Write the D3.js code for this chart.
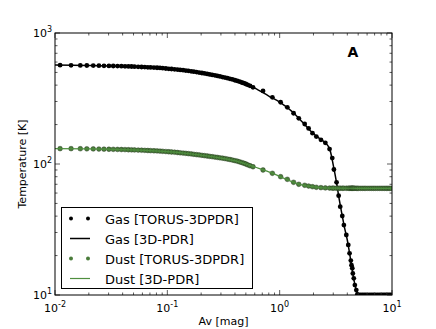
<!DOCTYPE html>
<html lang="en">
<head>
    <title>Temperature vs Av</title>
    <style type="text/css">
    body {
        margin: 0;
        background-color: #fff;
    }
    svg {
        background-color: white;
        font-family: "DejaVu Sans", sans-serif;
    }
    .tickLabel {
        font-size: 11px;
        fill: #000;
    }
    .axisLabel {
        font-size: 11px;
        fill: #000;
    }
    .legendText {
        font-size: 13px;
        fill: #000;
    }
    </style>
<script src="https://d3js.org/d3.v7.min.js"></script>
</head>
<body>
<div id="chart"></div>
<script>

// TORUS-3DPDR grid (same Av points for gas and dust)
var avTorus = [
    0.0111, 0.0139, 0.0168, 0.0192, 0.0219, 0.0246, 0.0273, 0.0302, 0.033, 0.036,
    0.039, 0.042, 0.045, 0.048, 0.051, 0.055, 0.059, 0.063, 0.067, 0.071,
    0.076, 0.081, 0.086, 0.091, 0.097, 0.103, 0.109, 0.116, 0.123, 0.130,
    0.138, 0.146, 0.154, 0.163, 0.172, 0.182, 0.192, 0.203, 0.214, 0.226,
    0.238, 0.251, 0.265, 0.279, 0.294, 0.31, 0.326, 0.343, 0.361, 0.38,
    0.40, 0.42, 0.44, 0.46, 0.48, 0.50, 0.52, 0.545,
    0.579, 0.711, 0.861, 1.02, 1.17, 1.33, 1.48, 1.67, 1.81, 1.96,
    2.12, 2.33, 2.55, 2.78, 2.94, 3.04, 3.21, 3.35, 3.46, 3.61,
    3.73, 3.92, 4.08, 4.19, 4.30, 4.36, 4.43, 4.48, 4.57, 4.67,
    4.81, 4.91,
    5.05, 5.25, 5.45, 5.65, 5.85, 6.1, 6.35, 6.6, 6.85, 7.1,
    7.4, 7.7, 8.0, 8.3, 8.6, 8.9, 9.2, 9.5, 9.8
];

var gasTorus = [
    568, 567, 566, 565, 564, 563, 562, 561, 560, 559,
    558, 557, 556, 555, 553, 552, 550, 549, 547, 546,
    545, 543, 541, 539, 536, 533, 531, 528, 526, 523,
    520, 517, 514, 510, 507, 503, 499, 495, 491, 487,
    483, 479, 475, 470, 466, 461, 457, 452, 447, 442,
    436, 431, 425, 419, 414, 408, 402, 395,
    385, 361, 323, 296, 271, 244, 223, 202, 187, 172,
    162, 153, 145, 130, 111, 90.8, 72.5, 57.3, 47.2, 40.1,
    34.2, 28.7, 24.1, 20.8, 18.3, 16.9, 16.0, 14.6, 13.4, 11.9,
    10.9, 10.1,
    10, 10, 10, 10, 10, 10, 10, 10, 10, 10,
    10, 10, 10, 10, 10, 10, 10, 10, 10
];

var dustTorus = [
    131, 131, 130.8, 130.6, 130.4, 130.1, 129.8, 129.6, 129.4, 129.2,
    129, 128.8, 128.5, 128.3, 128, 127.7, 127.4, 127.1, 126.8, 126.5,
    126.2, 125.8, 125.4, 125, 124.5, 124, 123.5, 123, 122.4, 121.8,
    121.2, 120.6, 120, 119.3, 118.6, 117.9, 117.2, 116.5, 115.8, 115.1,
    114.4, 113.7, 113, 112.3, 111.5, 110.8, 110, 109.1, 108.2, 107.2,
    106.1, 105, 103.8, 102.6, 101.3, 100, 98.6, 97,
    95.3, 90, 84.9, 80, 76.4, 72.5, 70, 68.8, 67.9, 67.1,
    66.4, 66, 65.7, 65.5, 65.4, 65.4, 65.3, 65.3, 65.3, 65.3,
    65.3, 65.3, 65.3, 65.3, 65.3, 65.3, 65.3, 65.3, 65.3, 65.3,
    65.2, 65.2,
    65.2, 65.2, 65.2, 65.2, 65.2, 65.2, 65.2, 65.2, 65.2, 65.2,
    65.2, 65.2, 65.2, 65.2, 65.2, 65.2, 65.2, 65.2, 65.2
];

// 3D-PDR curves
var avPdr = [0.01, 0.02, 0.04, 0.07, 0.1, 0.15, 0.2, 0.3, 0.4, 0.5,
    0.6, 0.8, 1.0, 1.3, 1.6, 2.0, 2.3, 2.6, 2.8, 3.0,
    3.2, 3.4, 3.6, 3.8, 4.0, 4.2, 4.4, 4.6, 4.8, 5.0,
    6, 8, 10];
var gasPdr = [570, 565, 557, 546, 531, 512, 494, 462, 436, 408,
    380, 330, 297, 250, 208, 170, 155, 143, 129, 98,
    73, 53, 40.5, 32, 26.3, 20.6, 16.2, 12.8, 11, 10,
    10, 10, 10];
var dustPdr = [131, 130.6, 128.9, 126.6, 124.2, 120.3, 116.7, 111, 106, 100,
    94.8, 87, 80.5, 73, 69, 67, 66, 65.6, 65.5, 65.4,
    65.4, 65.3, 65.3, 65.3, 65.3, 65.3, 65.3, 65.3, 65.2, 65.2,
    65.2, 65.2, 65.2];

var xDomain = [0.01, 10], yDomain = [10, 1000];
var xTickExp = [-2, -1, 0, 1], yTickExp = [1, 2, 3];
var legendLabels = ['Gas [TORUS-3DPDR]', 'Gas [3D-PDR]', 'Dust [TORUS-3DPDR]', 'Dust [3D-PDR]'];

var width = 436, height = 329;
var pLeft = 55, pRight = 392, pTop = 33, pBottom = 295;
var green = '#4a7c3a', greenLine = '#4f8f3f';

var svg = d3.select('#chart')
    .append('svg')
    .attr('width', width)
    .attr('height', height);

var xScale = d3.scaleLog().domain(xDomain).range([pLeft, pRight]);
var yScale = d3.scaleLog().domain(yDomain).range([pBottom, pTop]);

svg.append('clipPath').attr('id', 'clip')
    .append('rect')
    .attr('x', pLeft).attr('y', pTop - 3)
    .attr('width', pRight - pLeft).attr('height', pBottom - pTop + 3);

var plot = svg.append('g').attr('clip-path', 'url(#clip)');

function pts(xs, ys) {
    return xs.map(function(d, i) { return [d, ys[i]]; });
}

var line = d3.line()
    .x(function(d) { return xScale(d[0]); })
    .y(function(d) { return yScale(d[1]); })
    .curve(d3.curveMonotoneX);

// gas: dots then line
plot.selectAll('.gasDot')
    .data(pts(avTorus, gasTorus))
    .enter()
    .append('circle')
    .attr('class', 'gasDot')
    .attr('cx', function(d) { return xScale(d[0]); })
    .attr('cy', function(d) { return yScale(d[1]); })
    .attr('r', 2.4)
    .attr('fill', '#000');

plot.append('path')
    .datum(pts(avPdr, gasPdr))
    .attr('d', line)
    .attr('fill', 'none')
    .attr('stroke', '#000')
    .attr('stroke-width', 1.5);

// dust: dots then line
plot.selectAll('.dustDot')
    .data(pts(avTorus, dustTorus))
    .enter()
    .append('circle')
    .attr('class', 'dustDot')
    .attr('cx', function(d) { return xScale(d[0]); })
    .attr('cy', function(d) { return yScale(d[1]); })
    .attr('r', 2.4)
    .attr('fill', green)
    .attr('stroke', '#1c2a16')
    .attr('stroke-width', 0.4);

plot.append('path')
    .datum(pts(avPdr, dustPdr))
    .attr('d', line)
    .attr('fill', 'none')
    .attr('stroke', greenLine)
    .attr('stroke-width', 1.2);

// ticks (inside, all four sides)
function isDecade(d) {
    return Math.abs(Math.log10(d) - Math.round(Math.log10(d))) < 1e-9;
}
var xMajor = xScale.ticks().filter(isDecade);
var xMinor = xScale.ticks().filter(function(d) { return !isDecade(d); });
var yMajor = yScale.ticks().filter(isDecade);
var yMinor = yScale.ticks().filter(function(d) { return !isDecade(d); });

var ticks = svg.append('g').attr('stroke', '#333').attr('stroke-width', 0.8);
function xTicks(vals, len) {
    vals.forEach(function(v) {
        var x = xScale(v);
        ticks.append('line').attr('x1', x).attr('x2', x).attr('y1', pBottom).attr('y2', pBottom - len);
        ticks.append('line').attr('x1', x).attr('x2', x).attr('y1', pTop).attr('y2', pTop + len);
    });
}
function yTicks(vals, len) {
    vals.forEach(function(v) {
        var y = yScale(v);
        ticks.append('line').attr('y1', y).attr('y2', y).attr('x1', pLeft).attr('x2', pLeft + len);
        ticks.append('line').attr('y1', y).attr('y2', y).attr('x1', pRight).attr('x2', pRight - len);
    });
}
xTicks(xMajor, 5); xTicks(xMinor, 2.5);
yTicks(yMajor, 5); yTicks(yMinor, 2.5);

// frame
svg.append('rect')
    .attr('x', pLeft).attr('y', pTop)
    .attr('width', pRight - pLeft).attr('height', pBottom - pTop)
    .attr('fill', 'none')
    .attr('stroke', '#000')
    .attr('stroke-width', 1);

// tick labels
xTickExp.forEach(function(e) {
    var t = svg.append('text')
        .attr('class', 'tickLabel')
        .attr('x', xScale(Math.pow(10, e)))
        .attr('y', 312)
        .attr('text-anchor', 'middle');
    t.append('tspan').text('10');
    t.append('tspan').attr('dy', -5).attr('font-size', '8px').text(e);
});
yTickExp.forEach(function(e) {
    var t = svg.append('text')
        .attr('class', 'tickLabel')
        .attr('x', 52)
        .attr('y', yScale(Math.pow(10, e)) + 4)
        .attr('text-anchor', 'end');
    t.append('tspan').text('10');
    t.append('tspan').attr('dy', -5).attr('font-size', '8px').text(e);
});

// axis labels
svg.append('text')
    .attr('class', 'axisLabel')
    .attr('x', (pLeft + pRight) / 2)
    .attr('y', 325)
    .attr('text-anchor', 'middle')
    .text('Av [mag]');

svg.append('text')
    .attr('class', 'axisLabel')
    .attr('transform', 'translate(26,' + ((pTop + pBottom) / 2) + ') rotate(-90)')
    .attr('text-anchor', 'middle')
    .text('Temperature [K]');

svg.append('text')
    .attr('x', 353)
    .attr('y', 57)
    .attr('text-anchor', 'middle')
    .attr('font-size', '14px')
    .attr('font-weight', 'bold')
    .text('A');

// legend
var legend = svg.append('g');
legend.append('rect')
    .attr('x', 61.5).attr('y', 207.5)
    .attr('width', 191).attr('height', 81)
    .attr('fill', 'white')
    .attr('stroke', '#000')
    .attr('stroke-width', 1);

legendLabels.forEach(function(lab, i) {
    var y = 218.5 + i * 20;
    var col = i < 2 ? '#000' : green;
    if (i % 2 === 0) {
        [71, 88].forEach(function(x) {
            legend.append('circle').attr('cx', x).attr('cy', y).attr('r', 2).attr('fill', col);
        });
    } else {
        legend.append('line')
            .attr('x1', 70).attr('x2', 90).attr('y1', y).attr('y2', y)
            .attr('stroke', i < 2 ? '#000' : greenLine)
            .attr('stroke-width', i < 2 ? 1.5 : 1.2);
    }
    legend.append('text')
        .attr('class', 'legendText')
        .attr('x', 105)
        .attr('y', y + 5)
        .text(lab);
});

</script>
</body>
</html>
